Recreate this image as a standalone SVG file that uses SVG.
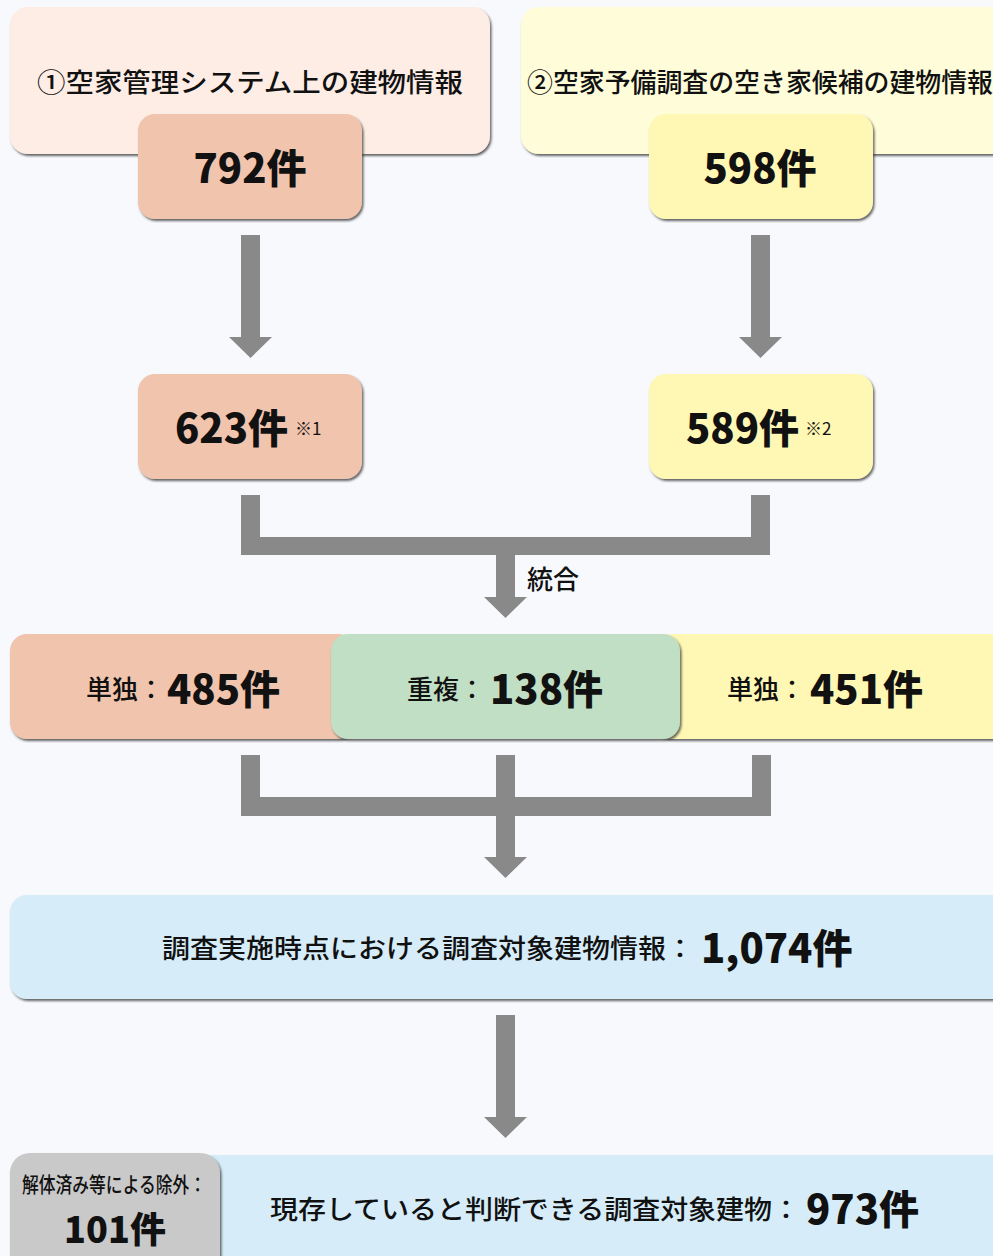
<svg xmlns="http://www.w3.org/2000/svg" width="993" height="1256" viewBox="0 0 993 1256">
<defs>
<filter id="sh" x="-5%" y="-5%" width="115%" height="120%">
<feDropShadow dx="1.5" dy="2" stdDeviation="0.9" flood-color="#333" flood-opacity="0.75"/>
</filter>
</defs>
<style>
text{font-family:"Noto Sans CJK JP","Noto Sans",sans-serif;fill:#111;dominant-baseline:central}
.lab{font-size:26px;font-weight:500}
.num{font-size:40px;font-weight:900}
.note{font-size:17px;font-weight:400}
.box{filter:url(#sh)}
.arrow{fill:#898989}
</style>
<rect width="993" height="1256" fill="#f7f9fd"/>
<g id="source1">
<rect class="box" x="10" y="7" width="480" height="147" rx="18" fill="#fdede5"/>
<text class="lab" x="250" y="80" text-anchor="middle" textLength="426" lengthAdjust="spacingAndGlyphs">①空家管理システム上の建物情報</text>
</g>
<g id="count1">
<rect class="box" x="138" y="114" width="224" height="105" rx="17" fill="#f1c4ad"/>
<text class="num" x="250" y="166" text-anchor="middle">792件</text>
</g>
<g id="source2">
<rect class="box" x="521" y="7" width="490" height="147" rx="18" fill="#fefcd9"/>
<text class="lab" x="760" y="80" text-anchor="middle" textLength="466" lengthAdjust="spacingAndGlyphs">②空家予備調査の空き家候補の建物情報</text>
</g>
<g id="count2">
<rect class="box" x="649" y="114" width="224" height="105" rx="17" fill="#fff8b4"/>
<text class="num" x="760" y="166" text-anchor="middle">598件</text>
</g>
<g id="filtered1">
<rect class="box" x="138" y="374" width="224" height="105" rx="17" fill="#f1c4ad"/>
<text class="num" x="175" y="426">623件</text>
<text class="note" x="295" y="427">※1</text>
</g>
<g id="filtered2">
<rect class="box" x="649" y="374" width="224" height="105" rx="17" fill="#fff8b4"/>
<text class="num" x="686" y="426">589件</text>
<text class="note" x="805" y="427">※2</text>
</g>
<g id="connectors">
<polygon class="arrow" points="241,235 260,235 260,337 272,337 250.5,358 229,337 241,337"/>
<polygon class="arrow" points="751,235 770,235 770,337 782,337 760.5,358 739,337 751,337"/>
<path class="arrow" d="M241,495 H260 V537 H751 V495 H770 V555 H515 V597 H527 L505.5,618 L484,597 H496 V555 H241 Z"/>
<path class="arrow" d="M241,755 H260 V797 H496 V755 H515 V797 H752 V755 H771 V816 H515 V857 H527 L505.5,878 L484,857 H496 V816 H241 Z"/>
<polygon class="arrow" points="496,1015 515,1015 515,1117 527,1117 505.5,1138 484,1117 496,1117"/>
<text class="lab" x="527" y="577">統合</text>
</g>
<g id="single1">
<rect class="box" x="10" y="634" width="345" height="105" rx="17" fill="#f1c4ad"/>
<text class="lab" x="86" y="687">単独：</text>
<text class="num" x="167" y="687">485件</text>
</g>
<g id="single2">
<rect class="box" x="655" y="634" width="360" height="105" rx="17" fill="#fff8b4"/>
<text class="lab" x="727" y="687">単独：</text>
<text class="num" x="810" y="687">451件</text>
</g>
<g id="overlap">
<rect class="box" x="331" y="634" width="349" height="105" rx="17" fill="#c1dfc5"/>
<text class="lab" x="407" y="687">重複：</text>
<text class="num" x="490" y="687">138件</text>
</g>
<g id="target">
<rect class="box" x="10" y="895" width="1000" height="104" rx="17" fill="#d6edf9"/>
<text class="lab" x="162" y="946" textLength="532" lengthAdjust="spacingAndGlyphs">調査実施時点における調査対象建物情報：</text>
<text class="num" x="701" y="946">1,074件</text>
</g>
<g id="existing">
<rect class="box" x="190" y="1155" width="830" height="130" rx="17" fill="#d6edf9"/>
<text class="lab" x="270" y="1207" textLength="530" lengthAdjust="spacingAndGlyphs">現存していると判断できる調査対象建物：</text>
<text class="num" x="806" y="1207">973件</text>
</g>
<g id="excluded">
<rect class="box" x="10" y="1153" width="210" height="130" rx="20" fill="#c9c9c9"/>
<text x="22" y="1183" style="font-size:21px;font-weight:500" textLength="184" lengthAdjust="spacingAndGlyphs">解体済み等による除外：</text>
<text class="num" x="115" y="1227" text-anchor="middle" style="font-size:36px">101件</text>
</g>
</svg>
